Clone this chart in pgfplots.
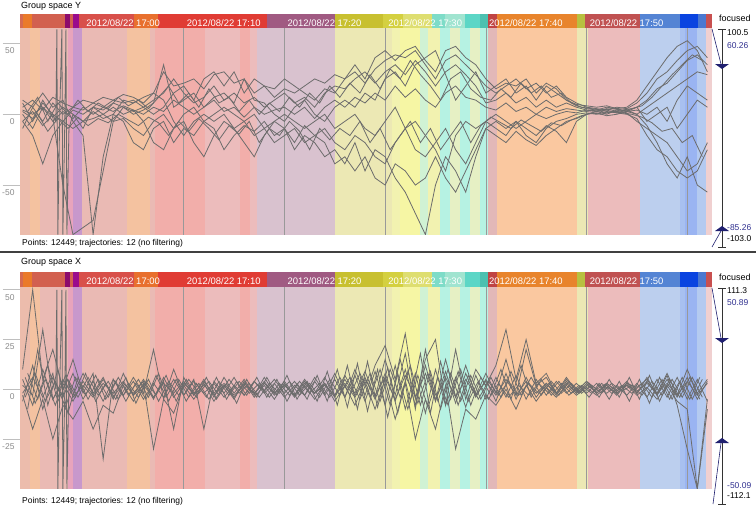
\documentclass[border=0pt]{standalone}
\usepackage{pgfplots}
\pgfplotsset{compat=1.18}
\usepackage{pgfplotstable}
\usepackage{fontspec}
\setmainfont{Liberation Sans}
% pastel strip colours
\definecolor{pPO}{HTML}{ECBCAC}
\definecolor{pOr}{HTML}{F4C2A0}
\definecolor{pPk}{HTML}{EABAB4}
\definecolor{pMg}{HTML}{E8A4BC}
\definecolor{pPu}{HTML}{C898CC}
\definecolor{pSa}{HTML}{F2AEAA}
\definecolor{pPk2}{HTML}{ECBCBC}
\definecolor{pMv}{HTML}{D9C2CF}
\definecolor{pYl}{HTML}{ECE8B4}
\definecolor{pYl2}{HTML}{F2F2B0}
\definecolor{pYl3}{HTML}{F6F6A4}
\definecolor{pCg}{HTML}{D0F2D4}
\definecolor{pCy}{HTML}{B6F2E3}
\definecolor{pCr}{HTML}{E6F0C4}
\definecolor{pRo}{HTML}{E2B8B8}
\definecolor{pOr2}{HTML}{FAC8A0}
\definecolor{pBl}{HTML}{BCCFEE}
\definecolor{pBl2}{HTML}{A8C0F0}
\definecolor{pBl3}{HTML}{9AB4F2}
\definecolor{pBl4}{HTML}{B4CAF0}
\definecolor{pLp}{HTML}{F0D0D0}
% band colours
\definecolor{bRo}{HTML}{D66A50}
\definecolor{bOr}{HTML}{EA7A2A}
\definecolor{bRd}{HTML}{D2604F}
\definecolor{bDm}{HTML}{8C0C6C}
\definecolor{bPu}{HTML}{9A0C8C}
\definecolor{bRd2}{HTML}{D8504A}
\definecolor{bOr2}{HTML}{E8702E}
\definecolor{bRd3}{HTML}{E03C34}
\definecolor{bMv}{HTML}{A05A82}
\definecolor{bOl}{HTML}{C8C030}
\definecolor{bYl}{HTML}{D4D040}
\definecolor{bYl2}{HTML}{DEDE70}
\definecolor{bCy}{HTML}{7EDCC8}
\definecolor{bCy2}{HTML}{A0E4D0}
\definecolor{bCy3}{HTML}{5CD6C6}
\definecolor{bTe}{HTML}{4CC0B0}
\definecolor{bRd4}{HTML}{C04444}
\definecolor{bOr3}{HTML}{E8842C}
\definecolor{bYg}{HTML}{B8C040}
\definecolor{bRd5}{HTML}{C05252}
\definecolor{bBl}{HTML}{5484D4}
\definecolor{bBl2}{HTML}{0A44E0}
\definecolor{bBl3}{HTML}{4A78D0}
\definecolor{bRd6}{HTML}{C85050}
\definecolor{trajc}{HTML}{6C6C6C}
\definecolor{navyc}{HTML}{202070}
\definecolor{numc}{HTML}{303090}

\newcommand{\strip}[3]{\addplot[draw=none,fill=#3,forget plot] coordinates {(#1,-300) (#2,-300) (#2,300) (#1,300)} -- cycle;}
\newcommand{\pastelstrips}{%
\strip{-6.26}{-5.26}{pPO}\strip{-5.26}{-4.27}{pOr}\strip{-4.27}{-1.49}{pPk}\strip{-1.49}{-0.99}{pMg}%
\strip{-0.99}{-0.10}{pPu}\strip{-0.10}{4.37}{pPk}\strip{4.37}{6.65}{pOr}\strip{6.65}{7.15}{pPk}%
\strip{7.15}{12.12}{pSa}\strip{12.12}{15.6}{pPk2}\strip{15.6}{16.6}{pSa}\strip{16.6}{17.3}{pPk2}%
\strip{17.3}{25.02}{pMv}\strip{25.02}{29.99}{pYl}\strip{29.99}{30.69}{pYl}\strip{30.69}{31.48}{pYl2}%
\strip{31.48}{33.47}{pYl3}\strip{33.47}{34.26}{pCg}\strip{34.26}{35.45}{pYl2}\strip{35.45}{36.45}{pCy}%
\strip{36.45}{37.44}{pCr}\strip{37.44}{38.43}{pCy}\strip{38.43}{39.42}{pCr}\strip{39.42}{40.22}{pCy}%
\strip{40.22}{41.11}{pRo}\strip{41.11}{49.06}{pOr2}\strip{49.06}{50.15}{pYl}\strip{50.15}{55.31}{pPk2}%
\strip{55.31}{59.29}{pBl}\strip{59.29}{59.78}{pBl2}\strip{59.78}{60.97}{pBl3}\strip{60.97}{61.87}{pBl4}%
\strip{61.87}{62.46}{pLp}%
\addplot[gray!80,line width=0.6bp,forget plot] coordinates {(10,-300) (10,300)};%
\addplot[gray!80,line width=0.6bp,forget plot] coordinates {(20,-300) (20,300)};%
\addplot[gray!80,line width=0.6bp,forget plot] coordinates {(30,-300) (30,300)};%
\addplot[gray!80,line width=0.6bp,forget plot] coordinates {(40,-300) (40,300)};%
\addplot[gray!80,line width=0.6bp,forget plot] coordinates {(50,-300) (50,300)};%
\addplot[gray!80,line width=0.6bp,forget plot] coordinates {(60,-300) (60,300)};%
}
\newcommand{\bandlabel}[2]{\node[anchor=west,font=\fontsize{9.5}{10}\selectfont,text=white,inner sep=0pt] at (axis cs:#1,0.45) {#2};}
\newcommand{\bandstrips}{%
\strip{-6.26}{-5.96}{bRo}\strip{-5.96}{-5.06}{bOr}\strip{-5.06}{-1.79}{bRd}\strip{-1.79}{-1.29}{bDm}%
\strip{-1.29}{-0.99}{bRd}\strip{-0.99}{-0.40}{bPu}\strip{-0.40}{5.1}{bRd2}\strip{5.1}{7.4}{bOr2}%
\strip{7.4}{18.27}{bRd3}\strip{18.27}{25.02}{bMv}\strip{25.02}{29.79}{bOl}\strip{29.79}{31.78}{bYl}%
\strip{31.78}{34.66}{bYl2}\strip{34.66}{35.95}{bCy}\strip{35.95}{37.93}{bCy2}\strip{37.93}{39.42}{bCy3}%
\strip{39.42}{40.22}{bTe}\strip{40.22}{41.11}{bRd4}\strip{41.11}{49.06}{bOr3}\strip{49.06}{49.85}{bYg}%
\strip{49.85}{55.31}{bRd5}\strip{55.31}{59.29}{bBl}\strip{59.29}{61.07}{bBl2}\strip{61.07}{61.87}{bBl3}%
\strip{61.87}{62.46}{bRd6}%
\bandlabel{0.3}{2012/08/22 17:00}\bandlabel{10.3}{2012/08/22 17:10}\bandlabel{20.3}{2012/08/22 17:20}%
\bandlabel{30.3}{2012/08/22 17:30}\bandlabel{40.3}{2012/08/22 17:40}\bandlabel{50.3}{2012/08/22 17:50}%
}

\pgfplotsset{
 panel/.style={scale only axis, width=692bp, xmin=-6.26, xmax=62.46,
   axis x line=none, axis y line*=left,
   axis line style={draw=gray!70,line width=0.8bp},
   tick align=outside, major tick length=17bp,
   ytick style={draw=gray!50,line width=0.6bp},
   yticklabel style={font=\fontsize{8.5}{9}\selectfont,text=gray!90,anchor=north east,xshift=15bp,yshift=-1bp},
   /pgf/number format/assume math mode=true,
   anchor=south west, clip=true},
 band/.style={scale only axis, width=692bp, xmin=-6.26, xmax=62.46, ymin=0, ymax=1, hide axis, anchor=south west},
 traj/.style={color=trajc, line width=0.8bp, mark=none, forget plot}
}

\pgfplotstableread{
t A B C D E F G H
-6 5 -5 0 8 -5 3 10 -10
-5 10 2 -10 -5 -15 0 5 5
-4 3 -8 5 10 -35 5 15 -5
-3 12 0 -5 -2 -15 -2 5 8
-2 8 -5 2 5 -5 -50 10 0
-1 5 3 -3 0 -10 -85 -5 5
0 10 0 5 -5 -5 -80 -15 3
1 8 5 0 2 -3 -75 -85 8
2 12 3 5 -3 0 -40 -30 5
3 10 8 2 0 5 -5 0 10
4 14 5 6 -5 0 5 10 8
5 12 2 3 -20 3 0 8 10
6 8 5 0 -25 -5 3 12 5
7 15 10 5 -10 -20 8 15 0
8 30 15 2 -5 -25 35 10 5
9 20 25 10 -20 -10 5 -5 15
10 22 15 5 -10 -5 10 -15 20
11 25 8 0 -15 -20 15 -5 10
12 18 12 5 -5 -30 5 0 25
13 28 20 10 -10 -15 12 -5 30
14 30 10 2 -25 -5 15 0 20
15 22 15 5 -15 -10 8 -10 30
16 25 8 -2 -8 -20 25 -5 15
17 15 12 5 -12 -30 10 0 25
18 20 5 0 -5 -15 8 -10 20
19 12 10 3 -15 -5 0 -5 18
20 18 15 5 -10 -10 -5 0 25
21 15 8 0 -20 -25 5 -5 20
22 20 12 5 -8 -15 10 -10 15
23 25 5 -3 -15 -20 0 -5 10
24 22 15 5 -10 -30 -5 0 18
25 28 20 10 -20 -25 5 -10 15
26 25 18 5 -25 -35 10 -5 25
27 30 25 12 -15 -20 5 0 35
28 22 30 8 -20 -40 15 -10 25
29 32 22 15 -30 -25 10 -15 40
30 38 30 10 -35 -30 25 -5 45
31 42 35 20 -20 -45 30 5 38
32 40 28 12 -10 -55 20 -10 45
33 45 38 18 -25 -70 35 -5 48
34 35 30 10 -30 -85 40 -15 38
35 25 20 5 -20 -50 45 -25 30
36 38 30 15 -10 -30 28 -40 45
37 42 35 20 -25 -40 10 -15 48
38 35 28 12 -35 -55 20 -5 40
39 28 20 10 -20 -30 30 -10 35
40 20 8 5 -5 -10 15 -5 25
41 15 10 3 -10 -15 20 0 18
42 20 15 8 -15 -20 25 -5 22
43 25 8 2 -5 -12 15 -10 20
44 18 12 5 -10 -18 20 -5 25
45 22 5 0 -15 -22 10 0 15
46 15 10 5 -8 -15 20 -3 22
47 20 5 2 -12 -10 15 0 18
48 12 8 4 -20 -5 10 2 10
49 8 5 3 -5 -3 6 1 7
50 5 3 2 0 0 4 3 6
51 4 2 3 2 1 3 2 5
52 3 4 1 0 -1 5 3 6
53 5 2 2 3 0 4 1 4
54 4 3 3 1 2 2 2 5
55 8 5 0 -5 0 3 5 10
56 15 10 5 -10 -8 0 -5 20
57 25 18 10 -15 -20 5 0 30
58 30 22 15 -20 -35 -5 5 40
59 38 30 20 -30 -45 10 -10 48
60 45 38 25 -40 -30 20 0 52
61 48 42 30 -35 -50 15 10 45
62 40 35 28 -20 -55 10 5 30
}\topY

\pgfplotstableread{
t J K
-5.5 2 -8
-4.5 12 0
-3.5 -5 -12
-2.5 8 -3
-1.5 0 -10
-0.5 10 -2
0.5 2 -8
1.5 8 -3
2.5 4 -6
3.5 12 0
4.5 6 -4
5.5 10 -8
6.5 4 -2
7.5 12 -6
8.5 20 -15
9.5 8 -5
10.5 15 -12
11.5 5 -3
12.5 18 -10
13.5 8 -18
14.5 12 -8
15.5 2 -14
16.5 10 -5
17.5 0 -20
18.5 8 -10
19.5 2 -15
20.5 12 -5
21.5 5 -12
22.5 15 -25
23.5 8 -10
24.5 20 -18
25.5 12 -10
26.5 22 -15
27.5 15 -5
28.5 28 -20
29.5 18 -10
30.5 32 -25
31.5 25 -15
32.5 38 -5
33.5 28 -20
34.5 20 -10
35.5 10 -25
36.5 25 -15
37.5 30 -5
38.5 18 -20
39.5 12 -8
40.5 10 -2
41.5 18 -6
42.5 12 -10
43.5 22 -4
44.5 15 -8
45.5 20 -12
46.5 12 -6
47.5 15 -8
48.5 8 -4
49.5 5 -1
50.5 4 1
51.5 3 0
52.5 4 2
53.5 3 1
54.5 4 0
55.5 6 -2
56.5 12 -6
57.5 20 -12
58.5 28 -10
59.5 35 -20
60.5 42 -15
61.5 38 -30
}\topH

\pgfplotstableread{
t P Q R S U
-6 5 -6 10 -3 2
-5 -8 12 50 -20 -3
-4 10 -10 5 -5 30
-3 -5 6 20 -25 -5
-2 3 -4 0 -8 5
-1 -6 8 15 -15 -3
0 4 -5 -2 -6 8
1 -3 4 8 -20 -2
2 5 -6 -35 -8 6
3 -4 5 5 -12 -5
4 3 -3 -3 2 8
5 -2 4 6 -6 -3
6 4 -5 -2 3 5
7 -5 3 20 -30 -4
8 6 -4 -5 -5 4
9 -4 5 10 -12 -20
10 3 -3 -3 2 6
11 -2 4 5 -5 -3
12 4 -2 -20 3 5
13 -3 3 4 -6 -4
14 2 -4 -2 2 6
15 -4 2 6 -5 -2
16 3 -3 -3 4 5
17 -2 4 4 -4 -3
18 4 -2 -1 2 6
19 -3 3 5 -5 -2
20 2 -4 -2 3 4
21 -3 2 4 -4 -3
22 4 -3 -3 2 5
23 -2 4 6 -5 -2
24 3 -3 -2 3 6
25 -4 5 8 -6 -3
26 5 -4 -4 2 7
27 -3 7 10 -8 -2
28 6 -6 -3 4 9
29 -5 9 12 -10 -4
30 8 -8 22 5 15
31 -6 12 5 -15 -3
32 10 -10 28 3 18
33 -8 8 -5 -25 -10
34 12 -12 15 -5 20
35 -6 10 25 -20 -6
36 9 -8 -8 2 15
37 -7 6 20 -30 -4
38 8 -9 -5 -10 12
39 -4 7 10 -15 -3
40 5 -5 2 -3 8
41 -6 6 12 -8 -2
42 8 -4 30 0 15
43 -5 7 5 -10 -3
44 6 -5 25 2 20
45 -4 5 3 -6 2
46 3 -3 8 1 6
47 -3 4 -2 -4 -2
48 4 -2 6 2 5
49 -2 3 -1 -3 -1
50 3 -2 4 1 4
51 -2 3 0 -3 -2
52 2 -2 3 1 3
53 -3 2 -1 -2 -1
54 3 -3 3 2 4
55 -2 3 1 -3 -2
56 4 -4 5 1 6
57 -3 5 -2 -5 -3
58 5 -4 8 2 7
59 -4 6 -3 -6 -8
60 6 -5 10 -10 -30
61 -5 5 -2 -50 -50
62 4 -6 5 -5 -10
}\botX

\pgfplotstableread{
t V W
-5.5 8 -10
-4.5 -5 20
-3.5 12 -8
-2.5 -6 10
-1.5 5 -12
-0.5 -4 6
0.5 6 -5
1.5 -3 5
2.5 4 -4
3.5 -5 6
4.5 3 -3
5.5 -4 5
6.5 5 -4
7.5 -6 8
8.5 4 -6
9.5 -3 5
10.5 5 -4
11.5 -2 3
12.5 4 -5
13.5 -3 4
14.5 5 -3
15.5 -2 4
16.5 3 -2
17.5 -4 3
18.5 3 -4
19.5 -2 3
20.5 4 -3
21.5 -3 4
22.5 3 -2
23.5 -4 3
24.5 5 -4
25.5 -3 6
26.5 6 -3
27.5 -5 8
28.5 8 -4
29.5 -6 10
30.5 10 -8
31.5 -4 15
32.5 12 -6
33.5 -8 18
34.5 9 -12
35.5 -10 14
36.5 8 -5
37.5 -6 10
38.5 7 -8
39.5 -5 6
40.5 6 -3
41.5 -4 10
42.5 9 -5
43.5 -3 12
44.5 6 -4
45.5 -3 5
46.5 4 -3
47.5 -2 3
48.5 3 -2
49.5 -2 2
50.5 2 -2
51.5 -2 3
52.5 3 -2
53.5 -1 2
54.5 2 -2
55.5 -3 3
56.5 4 -4
57.5 -3 5
58.5 5 -5
59.5 -4 6
60.5 6 -5
61.5 -4 5
}\botH

\pgfplotstableread{
t M N
-5.75 6 -4
-4.75 -7 8
-3.75 5 -6
-2.75 -8 4
-1.75 7 -9
-0.75 -4 6
0.25 8 -3
1.25 -6 7
2.25 3 -5
3.25 -5 4
4.25 6 -6
5.25 -7 3
6.25 4 -5
7.25 -3 7
8.25 7 -4
9.25 -6 5
10.25 5 -6
11.25 -4 3
12.25 6 -4
13.25 -5 6
14.25 3 -5
15.25 -7 4
16.25 5 -3
17.25 -4 6
18.25 6 -4
19.25 -3 5
20.25 7 -6
21.25 -5 3
22.25 4 -5
23.25 -6 7
24.25 9 -6
25.25 -8 10
26.25 12 -9
27.25 -10 13
28.25 14 -11
29.25 -9 10
30.25 11 -14
31.25 -12 8
32.25 9 -10
33.25 -7 7
34.25 8 -9
35.25 -6 6
36.25 10 -8
37.25 -8 9
38.25 7 -6
39.25 -5 4
40.25 4 -5
41.25 -3 3
42.25 4 -4
43.25 -3 2
44.25 3 -3
45.25 -2 3
46.25 3 -2
47.25 -3 4
48.25 4 -3
49.25 -2 2
50.25 3 -4
51.25 -4 3
52.25 5 -5
53.25 -4 4
54.25 6 -6
55.25 -5 5
56.25 7 -7
57.25 -6 6
58.25 5 -5
59.25 -4 4
60.25 6 -5
61.25 -5 6
}\botQ

\begin{document}
\begin{tikzpicture}
\path[use as bounding box] (0,0) rectangle (756bp,-512bp);
\fill[white] (0,0) rectangle (756bp,-512bp);

% ---------- panel Y ----------
\node[anchor=west,font=\fontsize{9}{10}\selectfont,inner sep=0pt] at (21bp,-6bp) {Group space Y};
\begin{axis}[band, at={(20bp,-29bp)}, height=14bp]
\bandstrips
\end{axis}
\begin{axis}[panel, at={(20bp,-235bp)}, height=206bp, ymin=-85.26, ymax=60.26, ytick={-50,0,50}]
\pastelstrips
\addplot[traj] table[x=t,y=A]{\topY};
\addplot[traj] table[x=t,y=B]{\topY};
\addplot[traj] table[x=t,y=C]{\topY};
\addplot[traj] table[x=t,y=D]{\topY};
\addplot[traj] table[x=t,y=E]{\topY};
\addplot[traj] table[x=t,y=F]{\topY};
\addplot[traj] table[x=t,y=G]{\topY};
\addplot[traj] table[x=t,y=H]{\topY};
\addplot[traj] table[x=t,y=J]{\topH};
\addplot[traj] table[x=t,y=K]{\topH};
\addplot[traj] coordinates {(-6,2) (-5,-3) (-4,8) (-3,0) (-2.7,-5) (-2.6,60) (-2.5,-85) (-2.3,5) (-2.1,60) (-2.0,-85) (-1.8,0) (-1.7,60) (-1.6,-85) (-1.4,-10) (-1,0) (0,-10) (1,5) (2,0) (3,-5) (4,-3) (5,-10) (6,-15) (7,-5) (8,0) (9,-10) (10,0) (11,5) (12,-5) (13,0) (14,5) (15,0) (16,-5) (17,-15) (18,-10) (19,-20) (20,-15) (21,-10) (22,-20) (23,-15) (24,-20) (25,-35) (26,-30) (27,-40) (28,-30) (29,-45) (30,-50) (31,-35) (32,-40) (33,-50) (34,-45) (35,-30) (36,-45) (37,-55) (38,-40) (39,-25) (40,-10) (41,-5) (42,-10) (43,-5) (44,-15) (45,-20) (46,-10) (47,-5) (48,-3) (49,0) (50,1) (51,0) (52,2) (53,1) (54,0) (55,-3) (56,-15) (57,-25) (58,-30) (59,-40) (60,-45) (61,-40) (62,-25)};
\end{axis}
\node[anchor=west,font=\fontsize{8.5}{10}\selectfont,inner sep=0pt] at (22bp,-243bp) {Points: 12449; trajectories: 12 (no filtering)};

% focus slider Y
\node[anchor=west,font=\fontsize{9}{10}\selectfont,inner sep=0pt] at (719bp,-18bp) {focused};
\draw[black!80,line width=0.6bp] (722bp,-29bp) -- (722bp,-247bp);
\draw[black!80,line width=0.6bp] (718bp,-29bp) -- (726bp,-29bp);
\draw[black!80,line width=0.6bp] (718bp,-247bp) -- (726bp,-247bp);
\draw[navyc,line width=0.6bp] (712bp,-29bp) -- (721bp,-64bp);
\fill[navyc] (715bp,-64bp) -- (729bp,-64bp) -- (722bp,-69bp) -- cycle;
\fill[navyc] (715bp,-231bp) -- (729bp,-231bp) -- (722bp,-226bp) -- cycle;
\draw[navyc,line width=0.6bp] (721bp,-231bp) -- (712bp,-247bp);
\node[anchor=west,font=\fontsize{8.5}{10}\selectfont,inner sep=0pt] at (727bp,-33bp) {100.5};
\node[anchor=west,font=\fontsize{8.5}{10}\selectfont,inner sep=0pt,text=numc] at (727bp,-46bp) {60.26};
\node[anchor=west,font=\fontsize{8.5}{10}\selectfont,inner sep=0pt,text=numc] at (727bp,-228bp) {-85.26};
\node[anchor=west,font=\fontsize{8.5}{10}\selectfont,inner sep=0pt] at (727bp,-239bp) {-103.0};

% separator
\draw[black!75,line width=1.5bp] (0,-252bp) -- (756bp,-252bp);

% ---------- panel X ----------
\node[anchor=west,font=\fontsize{9}{10}\selectfont,inner sep=0pt] at (21bp,-262bp) {Group space X};
\begin{axis}[band, at={(20bp,-288bp)}, height=15bp]
\bandstrips
\end{axis}
\begin{axis}[panel, at={(20bp,-489bp)}, height=201bp, ymin=-50.09, ymax=50.89, ytick={-25,0,25,50}]
\pastelstrips
\addplot[traj] table[x=t,y=P]{\botX};
\addplot[traj] table[x=t,y=Q]{\botX};
\addplot[traj] table[x=t,y=R]{\botX};
\addplot[traj] table[x=t,y=S]{\botX};
\addplot[traj] table[x=t,y=U]{\botX};
\addplot[traj] table[x=t,y=V]{\botH};
\addplot[traj] table[x=t,y=W]{\botH};
\addplot[traj] table[x=t,y=M]{\botQ};
\addplot[traj] table[x=t,y=N]{\botQ};
\addplot[traj] coordinates {(-6,-2) (-5,6) (-4,-4) (-3,8) (-2.7,0) (-2.6,50) (-2.5,-50) (-2.3,5) (-2.1,50) (-2.0,-50) (-1.8,0) (-1.7,50) (-1.6,-50) (-1.4,3) (-1,-4) (0,2) (1,-4) (2,3) (3,-2) (4,4) (5,-3) (6,2) (7,-4) (8,3) (9,-2) (10,4) (11,-3) (12,2) (13,-2) (14,3) (15,-3) (16,2) (17,-2) (18,3) (19,-2) (20,2) (21,-3) (22,3) (23,-2) (24,2) (25,-3) (26,3) (27,-4) (28,5) (29,-3) (30,6) (31,-5) (32,7) (33,-4) (34,8) (35,-5) (36,6) (37,-4) (38,5) (39,-3) (40,4) (41,-3) (42,5) (43,-3) (44,4) (45,-2) (46,3) (47,-2) (48,3) (49,-2) (50,2) (51,-1) (52,2) (53,-2) (54,2) (55,-1) (56,3) (57,-2) (58,3) (59,-3) (60,4) (61,-3) (62,3)};
\end{axis}
\node[anchor=west,font=\fontsize{8.5}{10}\selectfont,inner sep=0pt] at (22bp,-501bp) {Points: 12449; trajectories: 12 (no filtering)};

% focus slider X
\node[anchor=west,font=\fontsize{9}{10}\selectfont,inner sep=0pt] at (719bp,-277bp) {focused};
\draw[black!80,line width=0.6bp] (722bp,-288bp) -- (722bp,-504bp);
\draw[black!80,line width=0.6bp] (718bp,-288bp) -- (726bp,-288bp);
\draw[black!80,line width=0.6bp] (718bp,-504bp) -- (726bp,-504bp);
\draw[navyc,line width=0.6bp] (712bp,-288bp) -- (721bp,-338bp);
\fill[navyc] (715bp,-338bp) -- (729bp,-338bp) -- (722bp,-343bp) -- cycle;
\fill[navyc] (715bp,-443bp) -- (729bp,-443bp) -- (722bp,-438bp) -- cycle;
\draw[navyc,line width=0.6bp] (721bp,-443bp) -- (713bp,-504bp);
\node[anchor=west,font=\fontsize{8.5}{10}\selectfont,inner sep=0pt] at (727bp,-291bp) {111.3};
\node[anchor=west,font=\fontsize{8.5}{10}\selectfont,inner sep=0pt,text=numc] at (727bp,-303bp) {50.89};
\node[anchor=west,font=\fontsize{8.5}{10}\selectfont,inner sep=0pt,text=numc] at (727bp,-486bp) {-50.09};
\node[anchor=west,font=\fontsize{8.5}{10}\selectfont,inner sep=0pt] at (727bp,-496bp) {-112.1};
\end{tikzpicture}
\end{document}
